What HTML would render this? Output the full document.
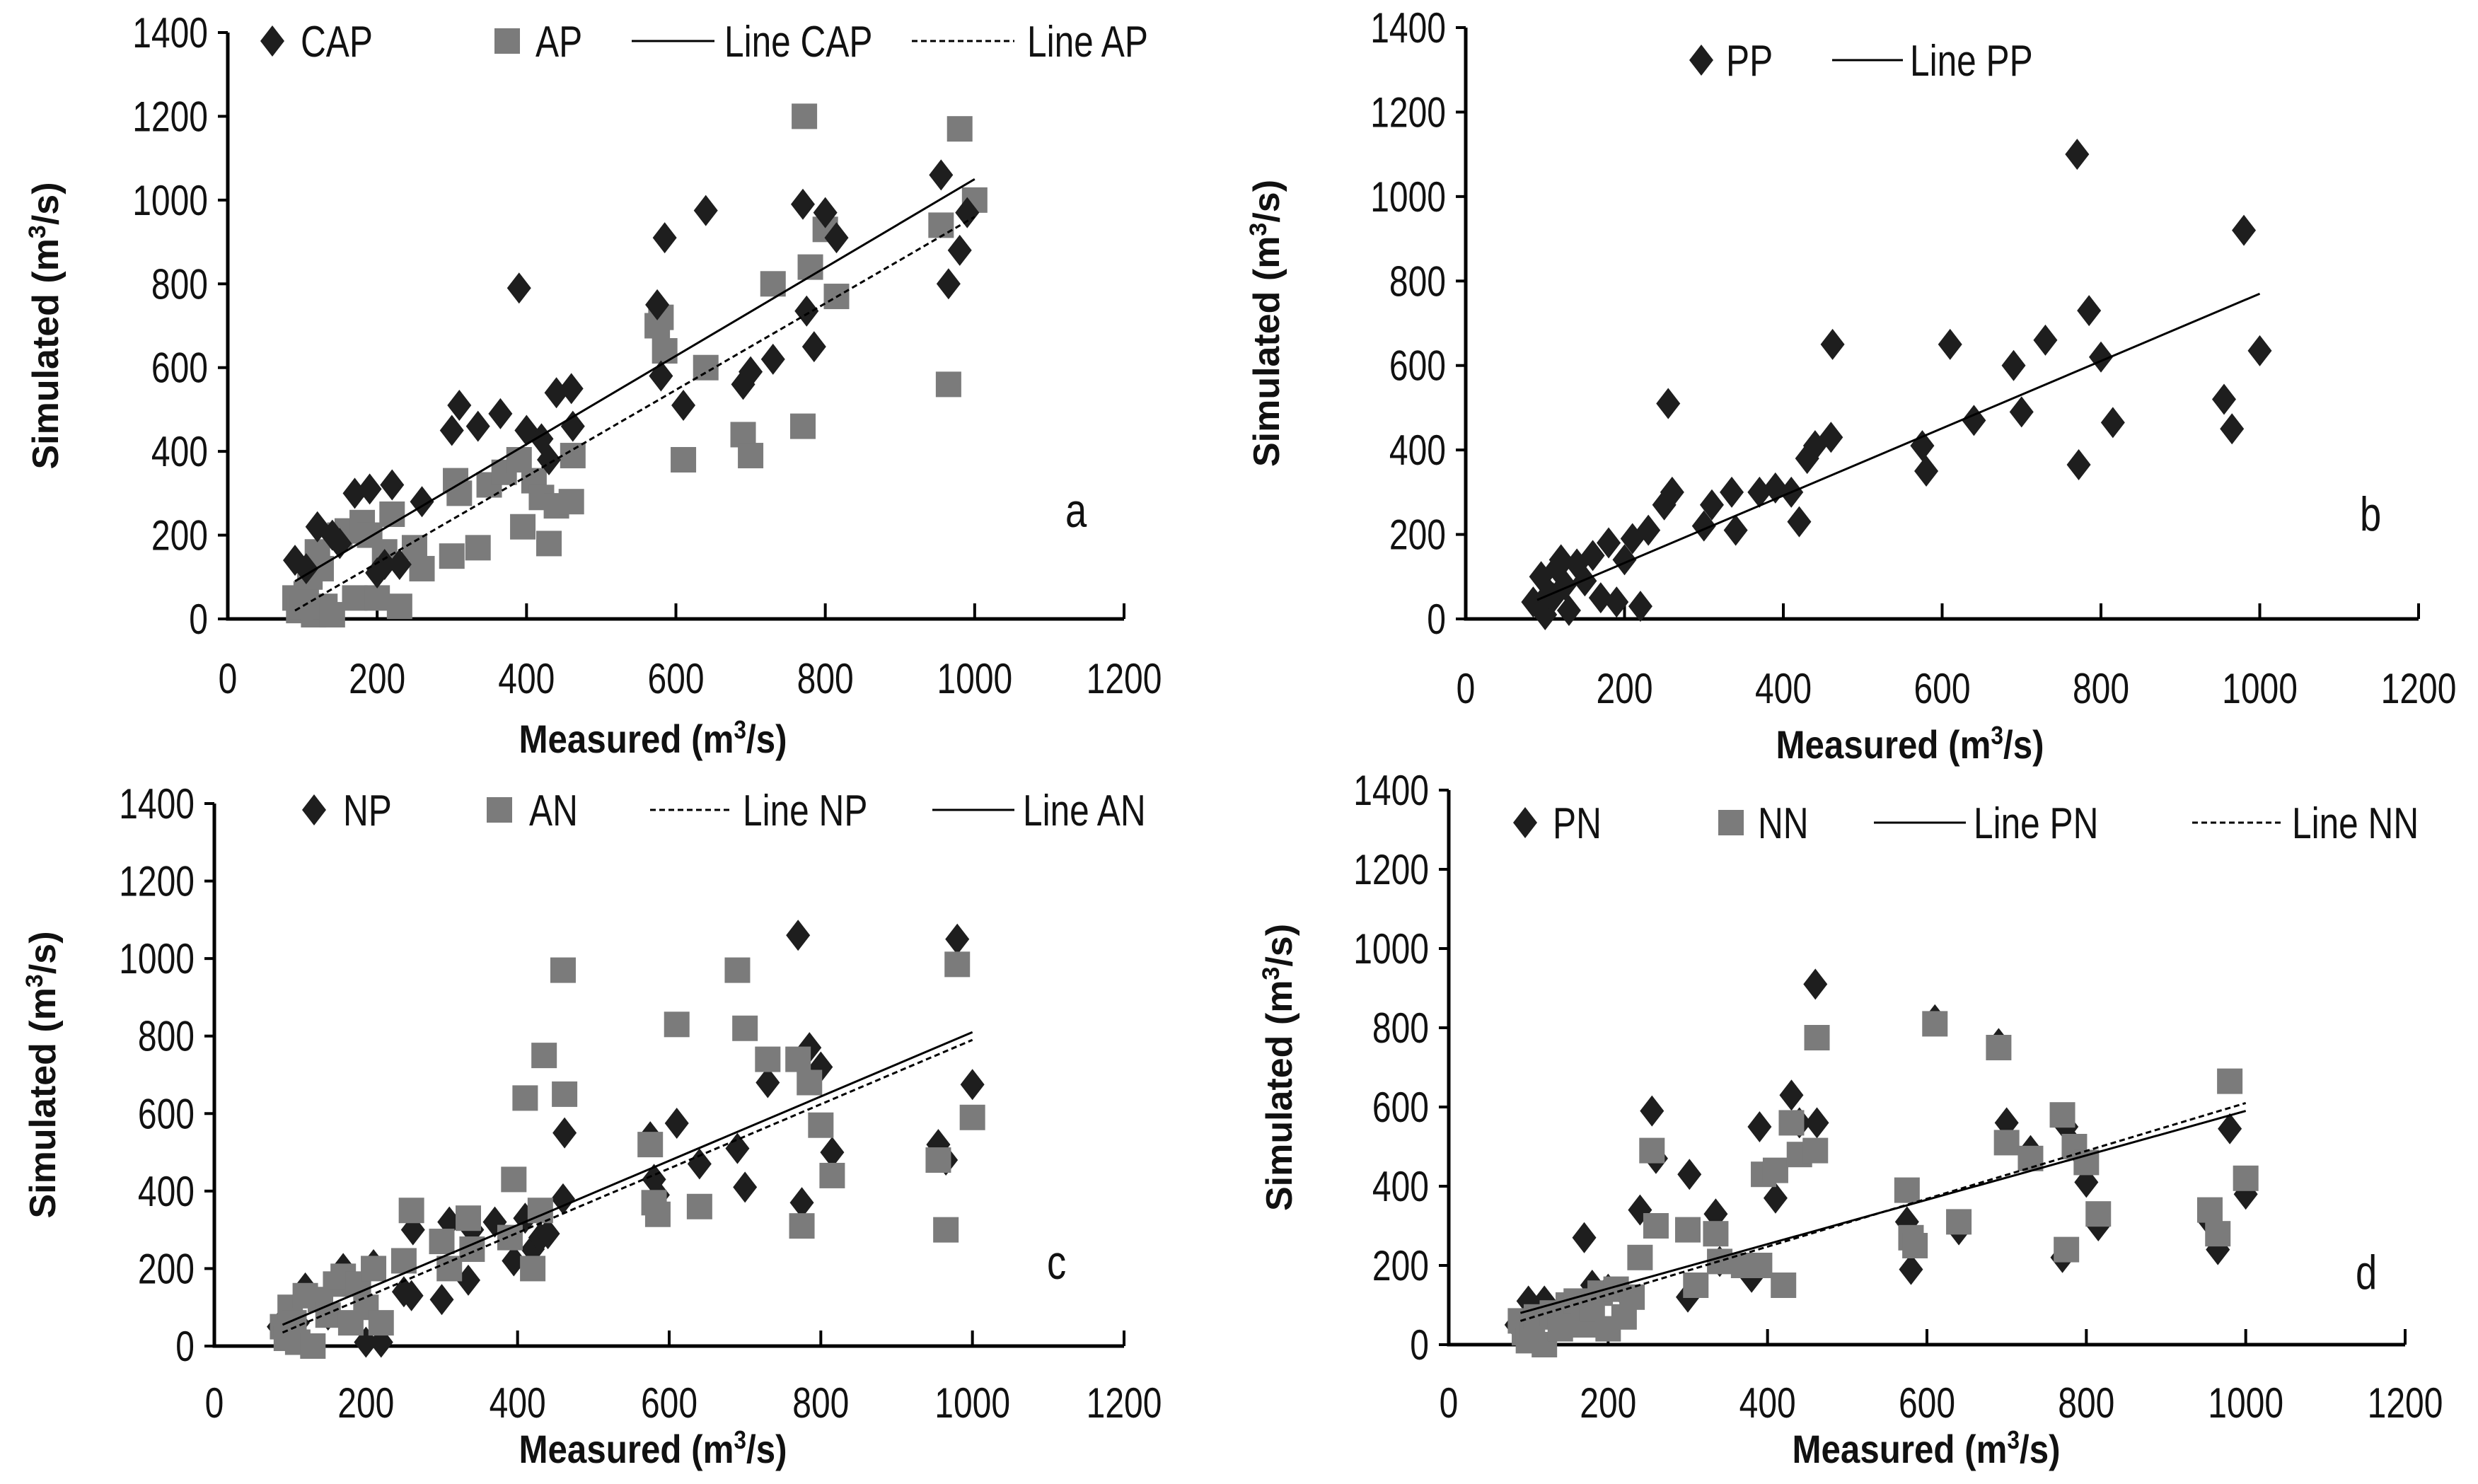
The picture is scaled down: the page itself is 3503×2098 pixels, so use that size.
<!DOCTYPE html>
<html><head><meta charset="utf-8"><style>
html,body{margin:0;padding:0;background:#fff}
svg{display:block}
text{font-family:"Liberation Sans",sans-serif;fill:#111}
</style></head><body>
<svg id="fig" width="3503" height="2098" viewBox="0 0 3503 2098" xmlns="http://www.w3.org/2000/svg"></svg>
<script>
const xTicks=[0,200,400,600,800,1000,1200];
const yTicks=[0,200,400,600,800,1000,1200,1400];
// Panel a
const capX=[90,105,120,140,150,170,190,200,210,220,230,260,300,310,335,365,390,400,420,430,440,460,462,575,580,585,610,640,690,700,730,770,775,785,800,815,955,965,980,990];
const capY=[140,120,220,200,180,300,310,110,130,320,130,280,450,510,460,490,790,450,430,380,540,550,460,750,580,910,510,975,560,590,620,990,735,650,970,910,1060,800,880,970];
const apX=[90,95,100,105,110,115,120,125,130,140,150,160,170,180,190,200,210,220,230,250,260,300,305,310,335,350,370,390,395,410,420,430,440,460,462,575,580,585,610,640,690,700,730,770,772,780,800,815,955,965,980,1000];
const apY=[50,20,30,60,100,10,160,120,30,10,200,210,50,230,200,50,160,250,30,170,120,150,330,300,170,320,350,380,220,330,290,180,270,280,390,700,720,640,380,600,440,390,800,460,1200,840,930,770,940,560,1170,1000];
const lineX=[90,1000];
const lineCAP=[90,1050];
const lineAP=[20,960];
// Panel b
const ppX=[85,95,100,105,110,115,120,125,130,140,150,160,170,180,190,200,210,220,230,250,255,260,300,310,335,340,370,390,410,420,430,440,460,462,575,580,610,640,690,700,730,770,772,785,800,815,955,965,980,1000];
const ppY=[40,100,10,60,50,120,140,80,20,130,90,150,50,180,40,140,190,30,210,270,510,300,220,270,300,210,300,310,300,230,380,410,430,650,410,350,650,470,600,490,660,1100,365,730,620,465,520,450,920,635];
const linePP=[45,770];
// Panel c
const npX=[85,100,110,120,140,150,170,200,210,220,250,260,262,300,310,335,340,370,395,410,420,430,440,460,462,575,580,585,610,640,690,700,730,770,775,785,800,815,955,965,980,1000];
const npY=[50,90,60,150,110,80,200,10,210,10,140,130,300,120,320,170,300,320,220,330,250,280,290,380,550,540,430,390,575,470,510,410,680,1060,370,770,720,500,520,480,1050,675];
const anX=[90,95,100,105,110,120,130,140,150,160,170,180,190,200,210,220,250,260,300,310,335,340,390,395,410,420,430,435,460,462,575,580,585,610,640,690,700,730,770,775,785,800,815,955,965,980,1000];
const anY=[50,20,100,60,10,130,0,120,80,160,180,60,160,100,200,60,220,350,270,200,330,250,280,430,640,200,350,750,970,650,520,370,340,830,360,970,820,740,740,310,680,570,440,480,300,985,590];
const lineNP=[35,790];
const lineAN=[55,810];
// Panel d
const pnX=[85,100,110,120,140,170,180,200,220,240,255,260,300,302,335,340,380,390,410,430,440,460,462,575,580,610,640,690,700,730,770,775,785,800,815,955,965,980,1000];
const pnY=[50,110,70,110,80,270,150,140,130,340,590,470,120,430,330,210,170,550,370,630,560,910,560,310,190,820,290,760,560,490,220,550,500,410,300,310,240,545,380];
const nnX=[90,95,100,105,110,120,130,140,150,160,170,180,190,200,210,220,230,240,255,260,300,310,335,340,370,390,395,410,420,430,440,460,462,575,580,585,610,640,690,700,730,770,775,785,800,815,955,965,980,1000];
const nnY=[60,30,10,50,70,0,80,40,100,110,50,90,130,40,140,70,120,220,490,300,290,150,280,210,200,200,430,440,150,560,480,490,775,390,270,250,810,310,750,510,470,580,240,500,460,330,340,280,665,420];
const linePN=[80,590];
const lineNN=[60,610];

const NS="http://www.w3.org/2000/svg";
const svg=document.getElementById('fig');
function mk(tag,attrs,parent){const e=document.createElementNS(NS,tag);for(const k in attrs)e.setAttribute(k,attrs[k]);(parent||svg).appendChild(e);return e;}
const DARK="#1e1e1e", GREY="#7b7b7b";
const SC=0.8;
function ctext(x,y,anchor,size,parent,str){
  const t=mk('text',{x:0,y:0,'text-anchor':anchor,'font-size':size,transform:`translate(${x},${y}) scale(${SC},1)`},parent);
  t.textContent=str;return t;
}

function panel(p){
  const g=mk('g',{});
  
  
  const sx=v=>p.x0+(p.x1-p.x0)*v/1200;
  const sy=v=>p.y0-(p.y0-p.y1)*v/1400;
  const ax=mk('path',{d:`M${sx(0)},${sy(1400)} L${sx(0)},${sy(0)} L${sx(1200)},${sy(0)}`,stroke:'#000','stroke-width':5,fill:'none'},g);
  
  
  yTicks.forEach(t=>{
    mk('line',{x1:sx(0)-14,x2:sx(0),y1:sy(t),y2:sy(t),stroke:'#000','stroke-width':4},g);
    const tx=ctext(sx(0)-28,sy(t)+21,'end',60,g,String(t));
    
    
  });
  xTicks.forEach(t=>{
    if(t>0)mk('line',{x1:sx(t),x2:sx(t),y1:sy(0),y2:sy(0)-22,stroke:'#000','stroke-width':4},g);
    const tx=ctext(sx(t),p.xly+4,'middle',60,g,String(t));
    
    
  });
  const xt=mk('text',{x:0,y:0,'text-anchor':'middle','font-size':56,'font-weight':'bold',transform:`translate(${p.xtx},${p.xty}) scale(0.88,1)`},g);
  xt.innerHTML='Measured (m<tspan font-size="36" dy="-20">3</tspan><tspan dy="20">/s)</tspan>';
  
  
  const yt=mk('text',{x:0,y:0,'text-anchor':'middle','font-size':52,'font-weight':'bold',transform:`translate(${p.ytx},${(p.y0+p.y1)/2}) rotate(-90)`},g);
  yt.innerHTML='Simulated (m<tspan font-size="34" dy="-18">3</tspan><tspan dy="18">/s)</tspan>';
  
  
  const lb=ctext(p.lbx,p.lby,'start',68,g,p.id);
  
  
  p.series.forEach(s=>{
    const sg=mk('g',{},g);
    
    
    s.xs.forEach((x,i)=>{
      const cx=sx(x), cy=sy(s.ys[i]);
      let m;
      if(s.shape==='sq') m=mk('rect',{x:cx-18,y:cy-18,width:36,height:36,fill:GREY},sg);
      else m=mk('path',{d:`M${cx},${cy-22} L${cx+17},${cy} L${cx},${cy+22} L${cx-17},${cy} Z`,fill:DARK},sg);
      
      
    });
  });
  p.lines.forEach(l=>{
    const ln=mk('line',{x1:sx(lineX[0]),y1:sy(l.ys[0]),x2:sx(lineX[1]),y2:sy(l.ys[1]),stroke:'#000','stroke-width':3,'stroke-dasharray':l.dash?'8,5':'none'},g);
    
    
  });
  const lg=mk('g',{},g);
  
  
  p.legend.forEach(it=>{
    const eg=mk('g',{},lg);
    
    
    const y=p.legy;
    if(it.t==='d') mk('path',{d:`M${it.x},${y-22} L${it.x+17},${y} L${it.x},${y+22} L${it.x-17},${y} Z`,fill:DARK},eg);
    else if(it.t==='s') mk('rect',{x:it.x-18,y:y-18,width:36,height:36,fill:GREY},eg);
    else mk('line',{x1:it.x,x2:it.x2,y1:y,y2:y,stroke:'#000','stroke-width':3,'stroke-dasharray':it.t==='dl'?'8,5':'none'},eg);
    ctext(it.tx,y+22,'start',62,eg,it.label);
  });
}

panel({id:'a',x0:322,x1:1589,y0:875,y1:46,xly:976,xtx:923,xty:1064,ytx:82,lbx:1506,lby:745,legy:58,
  series:[{name:'AP',xs:apX,ys:apY,shape:'sq'},{name:'CAP',xs:capX,ys:capY,shape:'d'}],
  lines:[{name:'CAP',ys:lineCAP},{name:'AP',ys:lineAP,dash:true}],
  legend:[{t:'d',x:385,tx:425,label:'CAP'},{t:'s',x:717,tx:757,label:'AP'},{t:'l',x:893,x2:1010,tx:1024,label:'Line CAP'},{t:'dl',x:1289,x2:1434,tx:1452,label:'Line AP'}]});
panel({id:'b',x0:2072,x1:3419,y0:875,y1:39,xly:990,xtx:2700,xty:1072,ytx:1808,lbx:3336,lby:750,legy:85,
  series:[{name:'PP',xs:ppX,ys:ppY,shape:'d'}],
  lines:[{name:'PP',ys:linePP}],
  legend:[{t:'d',x:2405,tx:2440,label:'PP'},{t:'l',x:2590,x2:2690,tx:2700,label:'Line PP'}]});
panel({id:'c',x0:303,x1:1589,y0:1903,y1:1136,xly:2000,xtx:923,xty:2068,ytx:78,lbx:1480,lby:1808,legy:1145,
  series:[{name:'NP',xs:npX,ys:npY,shape:'d'},{name:'AN',xs:anX,ys:anY,shape:'sq'}],
  lines:[{name:'NP',ys:lineNP,dash:true},{name:'AN',ys:lineAN}],
  legend:[{t:'d',x:444,tx:485,label:'NP'},{t:'s',x:706,tx:748,label:'AN'},{t:'dl',x:919,x2:1035,tx:1050,label:'Line NP'},{t:'l',x:1318,x2:1434,tx:1446,label:'Line AN'}]});
panel({id:'d',x0:2048,x1:3400,y0:1901,y1:1117,xly:2000,xtx:2723,xty:2068,ytx:1826,lbx:3330,lby:1822,legy:1163,
  series:[{name:'PN',xs:pnX,ys:pnY,shape:'d'},{name:'NN',xs:nnX,ys:nnY,shape:'sq'}],
  lines:[{name:'PN',ys:linePN},{name:'NN',ys:lineNN,dash:true}],
  legend:[{t:'d',x:2156,tx:2195,label:'PN'},{t:'s',x:2447,tx:2485,label:'NN'},{t:'l',x:2649,x2:2779,tx:2790,label:'Line PN'},{t:'dl',x:3099,x2:3227,tx:3240,label:'Line NN'}]});
</script>
</body></html>
